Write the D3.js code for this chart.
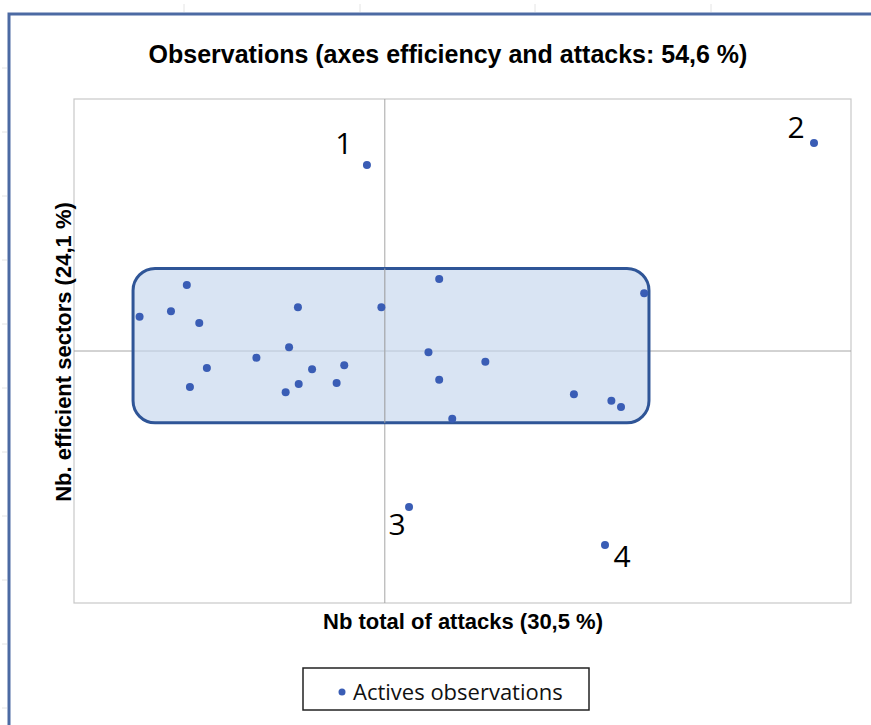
<!DOCTYPE html>
<html>
<head>
<meta charset="utf-8">
<script src="https://cdn.jsdelivr.net/npm/d3@7"></script>
<style>
  body { margin: 0; background: #fff; }
  svg { display: block; }
</style>
</head>
<body>
<svg id="chart" width="871" height="725"></svg>
<script>
// factor scores
const obsX = [-1.578, -1.376, -1.274, -1.194, -0.559, -0.022, 0.350, 1.669,
  -0.616, -0.826, -1.145, -1.254, -0.468, -0.261, -0.554, -0.638, -0.310,
  0.281, 0.647, 0.350, 0.434, 1.217, 1.458, 1.520,
  -0.115, 2.762, 0.156, 1.417];
const obsY = [0.272, 0.315, 0.524, 0.222, 0.347, 0.347, 0.571, 0.458,
  0.029, -0.053, -0.135, -0.286, -0.145, -0.113, -0.262, -0.328, -0.254,
  -0.010, -0.085, -0.228, -0.537, -0.344, -0.394, -0.444,
  1.476, 1.651, -1.238, -1.540];
const obsLabel = ['', '', '', '', '', '', '', '', '', '', '', '', '', '', '', '', '',
  '', '', '', '', '', '', '', '1', '2', '3', '4'];
// grouping box corners (x0, x1, y0, y1)
const groupBox = [-1.62, 1.70, 0.655, -0.57];
const xDomain = [-2, 3];
const yDomain = [-2, 2];

const svg = d3.select('#chart');
const margin = {left: 74, right: 20, top: 99, bottom: 122};
const W = 871, H = 725;

const x = d3.scaleLinear().domain(xDomain).range([margin.left, W - margin.right]);
const y = d3.scaleLinear().domain(yDomain).range([H - margin.bottom, margin.top]);

// spreadsheet frame
const frame = svg.append('g');
[184, 360, 535, 711].forEach(tx => {
  frame.append('line').attr('x1', tx).attr('x2', tx).attr('y1', 4).attr('y2', 12)
    .attr('stroke', '#e4e4e4').attr('stroke-width', 1);
});
d3.range(68, 725, 64).forEach(ty => {
  frame.append('line').attr('x1', 2).attr('x2', 7).attr('y1', ty).attr('y2', ty)
    .attr('stroke', '#e4e4e4').attr('stroke-width', 1);
});
frame.append('path')
  .attr('d', 'M9,725 V14 H871')
  .attr('fill', 'none')
  .attr('stroke', '#4c6aa3')
  .attr('stroke-width', 3);

// title
svg.append('text')
  .attr('x', 448).attr('y', 63)
  .attr('text-anchor', 'middle')
  .style('font-family', 'Liberation Sans, Arial, sans-serif')
  .style('font-weight', 'bold')
  .style('font-size', '25px')
  .attr('fill', '#000')
  .text('Observations (axes efficiency and attacks: 54,6 %)');

// plot area
svg.append('rect')
  .attr('x', x.range()[0]).attr('y', y.range()[1])
  .attr('width', x.range()[1] - x.range()[0])
  .attr('height', y.range()[0] - y.range()[1])
  .attr('fill', 'none')
  .attr('stroke', '#c8c8c8')
  .attr('stroke-width', 1.2);

// zero lines
svg.append('line')
  .attr('x1', x(0)).attr('x2', x(0))
  .attr('y1', y.range()[1]).attr('y2', y.range()[0])
  .attr('stroke', '#a6a6a6').attr('stroke-width', 1);
svg.append('line')
  .attr('x1', x.range()[0]).attr('x2', x.range()[1])
  .attr('y1', y(0)).attr('y2', y(0))
  .attr('stroke', '#a6a6a6').attr('stroke-width', 1);

// grouping box
svg.append('rect')
  .attr('x', x(groupBox[0])).attr('y', y(groupBox[2]))
  .attr('width', x(groupBox[1]) - x(groupBox[0]))
  .attr('height', y(groupBox[3]) - y(groupBox[2]))
  .attr('rx', 22).attr('ry', 22)
  .attr('fill', '#c5d5ed')
  .attr('fill-opacity', 0.65)
  .attr('stroke', '#2f5597')
  .attr('stroke-width', 3);

// zero lines show through the box fill
svg.append('line')
  .attr('x1', x(0)).attr('x2', x(0))
  .attr('y1', y(groupBox[2])).attr('y2', y(groupBox[3]))
  .attr('stroke', '#a6a6a6').attr('stroke-width', 1);

// points
const pts = obsX.map((v, i) => ({x: v, y: obsY[i], label: obsLabel[i]}));
svg.append('g').selectAll('circle')
  .data(pts)
  .join('circle')
  .attr('cx', d => x(d.x))
  .attr('cy', d => y(d.y))
  .attr('r', 4)
  .attr('fill', '#3a5db5');

// point numbers
const labelOffset = {'1': [-23, -11], '2': [-18, -5], '3': [-12, 28], '4': [17, 22]};
svg.append('g').selectAll('text')
  .data(pts.filter(d => d.label))
  .join('text')
  .attr('x', d => x(d.x) + labelOffset[d.label][0])
  .attr('y', d => y(d.y) + labelOffset[d.label][1])
  .attr('text-anchor', 'middle')
  .style('font-family', 'Open Sans, sans-serif')
  .style('font-size', '30px')
  .attr('fill', '#000')
  .text(d => d.label);

// axis titles
svg.append('text')
  .attr('x', 463).attr('y', 629)
  .attr('text-anchor', 'middle')
  .style('font-family', 'Liberation Sans, Arial, sans-serif')
  .style('font-weight', 'bold')
  .style('font-size', '22px')
  .text('Nb total of attacks (30,5 %)');
svg.append('text')
  .attr('transform', 'translate(71,352) rotate(-90)')
  .attr('text-anchor', 'middle')
  .style('font-family', 'Liberation Sans, Arial, sans-serif')
  .style('font-weight', 'bold')
  .style('font-size', '22px')
  .text('Nb. efficient sectors (24,1 %)');

// legend
const lg = svg.append('g');
lg.append('rect')
  .attr('x', 303).attr('y', 668).attr('width', 286).attr('height', 42)
  .attr('fill', '#fff')
  .attr('stroke', '#222')
  .attr('stroke-width', 1.5);
lg.append('circle').attr('cx', 342).attr('cy', 692).attr('r', 3.5).attr('fill', '#3a5db5');
lg.append('text')
  .attr('x', 353).attr('y', 700)
  .style('font-family', 'Open Sans, sans-serif')
  .style('font-size', '22px')
  .attr('fill', '#111')
  .text('Actives observations');
</script>
</body>
</html>
